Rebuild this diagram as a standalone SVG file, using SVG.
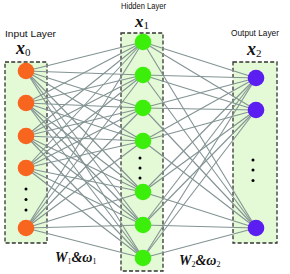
<svg xmlns="http://www.w3.org/2000/svg" width="290" height="274" viewBox="0 0 290 274">
<style>
.box{fill:#e4f9d6;stroke:#333;stroke-width:1.3;stroke-dasharray:4 2.2}
.lbl{font-family:"Liberation Sans",Arial,sans-serif;font-size:9px;fill:#111}
.m{font-family:"Liberation Serif","Times New Roman",serif;font-weight:bold;font-style:italic;fill:#111}
.sub{font-family:"Liberation Serif","Times New Roman",serif;font-style:normal;font-weight:normal}
.in{fill:#f8651e}
.hid{fill:#3cef0a}
.out{fill:#5a1ef0}
.dot{fill:#000}
#connectors line{stroke:#839393;stroke-width:1.1}
</style>
<rect width="290" height="274" fill="#fff"/>
<g id="boxes">
<rect class="box" x="5" y="62" width="42" height="181"/>
<rect class="box" x="121" y="33" width="42" height="238"/>
<rect class="box" x="233" y="62" width="44" height="181"/>
</g>
<g id="connectors">
<line x1="26" y1="71" x2="143" y2="42"/><line x1="26" y1="71" x2="143" y2="75"/><line x1="26" y1="71" x2="143" y2="108"/><line x1="26" y1="71" x2="143" y2="141"/><line x1="26" y1="71" x2="143" y2="192"/><line x1="26" y1="71" x2="143" y2="225"/><line x1="26" y1="71" x2="143" y2="258"/>
<line x1="26" y1="103" x2="143" y2="42"/><line x1="26" y1="103" x2="143" y2="75"/><line x1="26" y1="103" x2="143" y2="108"/><line x1="26" y1="103" x2="143" y2="141"/><line x1="26" y1="103" x2="143" y2="192"/><line x1="26" y1="103" x2="143" y2="225"/><line x1="26" y1="103" x2="143" y2="258"/>
<line x1="26" y1="136" x2="143" y2="42"/><line x1="26" y1="136" x2="143" y2="75"/><line x1="26" y1="136" x2="143" y2="108"/><line x1="26" y1="136" x2="143" y2="141"/><line x1="26" y1="136" x2="143" y2="192"/><line x1="26" y1="136" x2="143" y2="225"/><line x1="26" y1="136" x2="143" y2="258"/>
<line x1="26" y1="168" x2="143" y2="42"/><line x1="26" y1="168" x2="143" y2="75"/><line x1="26" y1="168" x2="143" y2="108"/><line x1="26" y1="168" x2="143" y2="141"/><line x1="26" y1="168" x2="143" y2="192"/><line x1="26" y1="168" x2="143" y2="225"/><line x1="26" y1="168" x2="143" y2="258"/>
<line x1="26" y1="228" x2="143" y2="42"/><line x1="26" y1="228" x2="143" y2="75"/><line x1="26" y1="228" x2="143" y2="108"/><line x1="26" y1="228" x2="143" y2="141"/><line x1="26" y1="228" x2="143" y2="192"/><line x1="26" y1="228" x2="143" y2="225"/><line x1="26" y1="228" x2="143" y2="258"/>
<line x1="143" y1="42" x2="256" y2="78"/><line x1="143" y1="42" x2="256" y2="110"/><line x1="143" y1="42" x2="256" y2="228"/>
<line x1="143" y1="75" x2="256" y2="78"/><line x1="143" y1="75" x2="256" y2="110"/><line x1="143" y1="75" x2="256" y2="228"/>
<line x1="143" y1="108" x2="256" y2="78"/><line x1="143" y1="108" x2="256" y2="110"/><line x1="143" y1="108" x2="256" y2="228"/>
<line x1="143" y1="141" x2="256" y2="78"/><line x1="143" y1="141" x2="256" y2="110"/><line x1="143" y1="141" x2="256" y2="228"/>
<line x1="143" y1="192" x2="256" y2="78"/><line x1="143" y1="192" x2="256" y2="110"/><line x1="143" y1="192" x2="256" y2="228"/>
<line x1="143" y1="225" x2="256" y2="78"/><line x1="143" y1="225" x2="256" y2="110"/><line x1="143" y1="225" x2="256" y2="228"/>
<line x1="143" y1="258" x2="256" y2="78"/><line x1="143" y1="258" x2="256" y2="110"/><line x1="143" y1="258" x2="256" y2="228"/>
</g>
<g id="input-layer">
<text class="lbl" x="5" y="37" textLength="51" lengthAdjust="spacingAndGlyphs">Input  Layer</text>
<text class="m" x="16" y="54" font-size="18">x<tspan class="sub" font-size="11" dy="2">0</tspan></text>
<circle class="in" cx="26" cy="71" r="8.3"/>
<circle class="in" cx="26" cy="103" r="8.3"/>
<circle class="in" cx="26" cy="136" r="8.3"/>
<circle class="in" cx="26" cy="168" r="8.3"/>
<circle class="dot" cx="26" cy="189" r="1.5"/>
<circle class="dot" cx="26" cy="199.5" r="1.5"/>
<circle class="dot" cx="26" cy="210" r="1.5"/>
<circle class="in" cx="26" cy="228" r="8.3"/>
</g>
<g id="hidden-layer">
<text class="lbl" x="121" y="9" textLength="45" lengthAdjust="spacingAndGlyphs">Hidden Layer</text>
<text class="m" x="135" y="26.5" font-size="17">x<tspan class="sub" font-size="11" dy="2">1</tspan></text>
<circle class="hid" cx="143" cy="42" r="8.3"/>
<circle class="hid" cx="143" cy="75" r="8.3"/>
<circle class="hid" cx="143" cy="108" r="8.3"/>
<circle class="hid" cx="143" cy="141" r="8.3"/>
<circle class="dot" cx="140" cy="158" r="1.5"/>
<circle class="dot" cx="140" cy="168" r="1.5"/>
<circle class="dot" cx="140" cy="178" r="1.5"/>
<circle class="hid" cx="143" cy="192" r="8.3"/>
<circle class="hid" cx="143" cy="225" r="8.3"/>
<circle class="hid" cx="143" cy="258" r="8.3"/>
</g>
<g id="output-layer">
<text class="lbl" x="231" y="36" textLength="48" lengthAdjust="spacingAndGlyphs">Output Layer</text>
<text class="m" x="247" y="55" font-size="18">x<tspan class="sub" font-size="11" dy="2">2</tspan></text>
<circle class="out" cx="256" cy="78" r="8.3"/>
<circle class="out" cx="256" cy="110" r="8.3"/>
<circle class="dot" cx="253" cy="160" r="1.5"/>
<circle class="dot" cx="253" cy="170" r="1.5"/>
<circle class="dot" cx="253" cy="180.5" r="1.5"/>
<circle class="out" cx="256" cy="228" r="8.3"/>
</g>
<g id="weights">
<text class="m" x="55" y="262" font-size="14">W<tspan class="sub" font-size="8" dy="2">1</tspan><tspan dy="-2">&amp;ω</tspan><tspan class="sub" font-size="8" dy="2">1</tspan></text>
<text class="m" x="179" y="265" font-size="14">W<tspan class="sub" font-size="8" dy="2">2</tspan><tspan dy="-2">&amp;ω</tspan><tspan class="sub" font-size="8" dy="2">2</tspan></text>
</g>
</svg>
